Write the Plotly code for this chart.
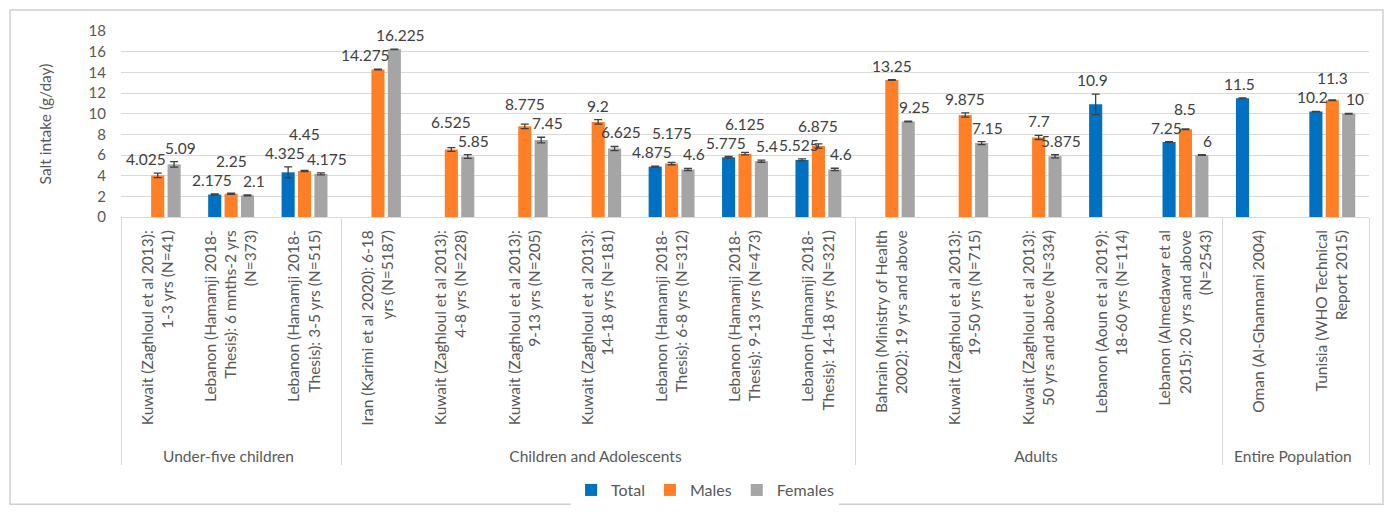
import plotly.graph_objects as go

groups = (["Under-five children"] * 3 + ["Children and Adolescents"] * 7 +
          ["Adults"] * 5 + ["Entire Population"] * 2)
studies = [
    "Kuwait (Zaghloul et al 2013):<br>1-3 yrs (N=41)",
    "Lebanon (Hamamji 2018-<br>Thesis): 6 mnths-2 yrs<br>(N=373)",
    "Lebanon (Hamamji 2018-<br>Thesis): 3-5 yrs (N=515)",
    "Iran (Karimi et al 2020): 6-18<br>yrs (N=5187)",
    "Kuwait (Zaghloul et al 2013):<br>4-8 yrs (N=228)",
    "Kuwait (Zaghloul et al 2013):<br>9-13 yrs (N=205)",
    "Kuwait (Zaghloul et al 2013):<br>14-18 yrs (N=181)",
    "Lebanon (Hamamji 2018-<br>Thesis): 6-8 yrs (N=312)",
    "Lebanon (Hamamji 2018-<br>Thesis): 9-13 yrs (N=473)",
    "Lebanon (Hamamji 2018-<br>Thesis): 14-18 yrs (N=321)",
    "Bahrain (Ministry of Health<br>2002): 19 yrs and above",
    "Kuwait (Zaghloul et al 2013):<br>19-50 yrs (N=715)",
    "Kuwait (Zaghloul et al 2013):<br>50 yrs and above (N=334)",
    "Lebanon (Aoun et al 2019):<br>18-60 yrs (N=114)",
    "Lebanon (Almedawar et al<br>2015): 20 yrs and above<br>(N=2543)",
    "Oman (Al-Ghannami 2004)",
    "Tunisia (WHO Technical<br>Report 2015)",
]

total = [None, 2.175, 4.325, None, None, None, None, 4.875, 5.775, 5.525,
         None, None, None, 10.9, 7.25, 11.5, 10.2]
males = [4.025, 2.25, 4.45, 14.275, 6.525, 8.775, 9.2, 5.175, 6.125, 6.875,
         13.25, 9.875, 7.7, None, 8.5, None, 11.3]
females = [5.09, 2.1, 4.175, 16.225, 5.85, 7.45, 6.625, 4.6, 5.4, 4.6,
           9.25, 7.15, 5.875, None, 6, None, 10]

total_err = [0, 0.05, 0.53, 0, 0, 0, 0, 0.05, 0.08, 0.1,
             0, 0, 0, 1.0, 0.03, 0.03, 0.03]
males_err = [0.22, 0.05, 0.05, 0.03, 0.18, 0.22, 0.22, 0.12, 0.12, 0.2,
             0.03, 0.2, 0.2, 0, 0.03, 0, 0.03]
females_err = [0.27, 0.05, 0.1, 0.03, 0.18, 0.27, 0.2, 0.1, 0.1, 0.12,
               0.03, 0.15, 0.15, 0, 0.03, 0, 0.03]

series = [
    ("Total", total, total_err, "#0070C0"),
    ("Males", males, males_err, "#FF7F27"),
    ("Females", females, females_err, "#A5A5A5"),
]

FONT = "Lato"
TXT = "#595959"
LBL = "#404040"
BARGAP = 0.33
YMAX = 18
W, H = 1376, 498
M_L, M_R, M_T, M_B = 113, 15, 23, 289
PLOT_H = H - M_T - M_B
PX_PER_UNIT = PLOT_H / YMAX

# small leading pad so the group row sits a little lower under the labels
PAD = "\u00a0\u00a0\u00a0"
study_ticks = [PAD + s for s in studies]

fig = go.Figure()
for name, vals, errs, col in series:
    fig.add_trace(go.Bar(
        name=name,
        x=[groups, study_ticks],
        y=vals,
        marker=dict(color=col, line=dict(width=0)),
        error_y=dict(type="data", array=errs, visible=True,
                     color="#404040", thickness=1.3, width=4),
        cliponaxis=False,
    ))

# data labels placed above each bar / error bar, staggered to avoid overlap
annotations = []
for k, (name, vals, errs, col) in enumerate(series):
    for i, v in enumerate(vals):
        if v is None:
            continue
        top = v + errs[i]
        yshift = 3
        xshift = 0
        if name == "Total":
            xshift = -3
        elif name == "Females":
            xshift = 6
        elif name == "Males":
            nbs = []
            if total[i] is not None:
                nbs.append(total[i] + total_err[i])
            if females[i] is not None:
                nbs.append(females[i] + females_err[i])
            if total[i] is None and females[i] is not None and v < females[i]:
                xshift = -12
            elif nbs:
                yshift += max(0.0, 19 - (top - max(nbs)) * PX_PER_UNIT)
        annotations.append(dict(
            x=i + (k - 1) * (1 - BARGAP) / 3, y=top, xref="x", yref="y",
            text=f"{v:g}", showarrow=False, yanchor="bottom",
            xanchor="center", xshift=xshift, yshift=yshift,
            font=dict(family=FONT, size=15.5, color=LBL),
        ))

fig.update_layout(
    width=W, height=H,
    margin=dict(l=M_L, r=M_R, t=M_T, b=M_B, autoexpand=False),
    paper_bgcolor="white", plot_bgcolor="white",
    barmode="group", bargap=BARGAP, bargroupgap=0.2,
    font=dict(family=FONT, size=15, color=TXT),
    showlegend=True,
    legend=dict(orientation="h", x=0.468, xanchor="center", y=-1.468,
                yanchor="middle", font=dict(family=FONT, size=16, color=TXT),
                itemwidth=30, traceorder="normal"),
    annotations=annotations,
    shapes=[dict(type="rect", xref="paper", yref="paper",
                 x0=-0.0889, x1=1.0112, y0=-1.545, y1=1.113,
                 line=dict(color="#D0D0D0", width=1.5))],
)
fig.update_yaxes(range=[0, YMAX], dtick=2, showgrid=True, gridcolor="#D9D9D9",
                 gridwidth=1, zeroline=False, showline=False, automargin=False,
                 tickfont=dict(family=FONT, size=15, color=TXT), ticks="",
                 ticklabelstandoff=14,
                 title=dict(text="Salt intake (g/day)", standoff=33,
                            font=dict(family=FONT, size=15.5, color=TXT)))
fig.update_xaxes(type="multicategory", tickangle=-90, showline=True,
                 linecolor="#D9D9D9", linewidth=1, ticks="", automargin=False,
                 ticklabelstandoff=6,
                 showdividers=True, dividercolor="#D9D9D9", dividerwidth=1,
                 tickfont=dict(family=FONT, size=15.5, color=TXT))

fig.write_html("out.html")
